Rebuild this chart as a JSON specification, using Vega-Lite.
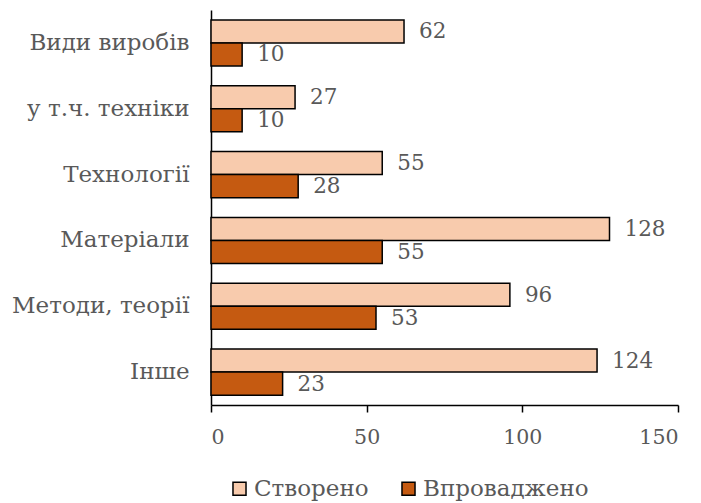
{
  "$schema": "https://vega.github.io/schema/vega-lite/v6.json",
  "autosize": "none",
  "width": 467,
  "height": 395,
  "padding": {"left": 211, "top": 10, "right": 23, "bottom": 98},
  "background": "white",
  "config": {
    "view": {"stroke": null},
    "font": "DejaVu Serif"
  },
  "data": {
    "values": [
      {"cat": "Види виробів", "series": "Створено", "value": 62},
      {"cat": "Види виробів", "series": "Впроваджено", "value": 10},
      {"cat": "у т.ч.  техніки", "series": "Створено", "value": 27},
      {"cat": "у т.ч.  техніки", "series": "Впроваджено", "value": 10},
      {"cat": "Технології", "series": "Створено", "value": 55},
      {"cat": "Технології", "series": "Впроваджено", "value": 28},
      {"cat": "Матеріали", "series": "Створено", "value": 128},
      {"cat": "Матеріали", "series": "Впроваджено", "value": 55},
      {"cat": "Методи, теорії", "series": "Створено", "value": 96},
      {"cat": "Методи, теорії", "series": "Впроваджено", "value": 53},
      {"cat": "Інше", "series": "Створено", "value": 124},
      {"cat": "Інше", "series": "Впроваджено", "value": 23}
    ]
  },
  "encoding": {
    "y": {
      "field": "cat", "type": "nominal",
      "sort": ["Види виробів", "у т.ч.  техніки", "Технології", "Матеріали", "Методи, теорії", "Інше"],
      "scale": {"paddingInner": 0.3, "paddingOuter": 0.15},
      "axis": {
        "title": null, "ticks": false, "labelFontSize": 23, "labelColor": "#595959",
        "labelPadding": 22, "domainColor": "#000000", "domainWidth": 1.5, "labelFont": "DejaVu Serif",
        "labelLimit": 250
      }
    },
    "yOffset": {
      "field": "series", "type": "nominal",
      "sort": ["Створено", "Впроваджено"]
    },
    "x": {
      "field": "value", "type": "quantitative",
      "scale": {"domain": [0, 150], "nice": false},
      "axis": {
        "title": null, "values": [0, 50, 100, 150], "grid": false,
        "labelFontSize": 20.5, "labelColor": "#595959", "labelFont": "DejaVu Serif",
        "tickColor": "#000000", "tickSize": 7, "tickWidth": 1.5, "labelPadding": 15,
        "domainColor": "#000000", "domainWidth": 1.5
      }
    }
  },
  "layer": [
    {
      "mark": {"type": "bar", "stroke": "#000000", "strokeWidth": 1.5},
      "encoding": {
        "color": {
          "field": "series", "type": "nominal",
          "sort": ["Створено", "Впроваджено"],
          "scale": {"domain": ["Створено", "Впроваджено"], "range": ["#F8CBAD", "#C55A11"]},
          "legend": {
            "title": null, "orient": "none", "direction": "horizontal",
            "legendX": 17, "legendY": 467,
            "symbolType": "square", "symbolSize": 170, "symbolStrokeColor": "#000000",
            "symbolStrokeWidth": 1.5, "symbolOpacity": 1,
            "labelFontSize": 23, "labelColor": "#595959", "labelFont": "DejaVu Serif",
            "columnPadding": 28, "labelOffset": 3, "labelLimit": 300
          }
        }
      }
    },
    {
      "mark": {"type": "text", "align": "left", "baseline": "middle", "dx": 15, "dy": 1, "fontSize": 21.5, "color": "#595959", "font": "DejaVu Serif"},
      "encoding": {
        "text": {"field": "value", "type": "quantitative"}
      }
    }
  ]
}
